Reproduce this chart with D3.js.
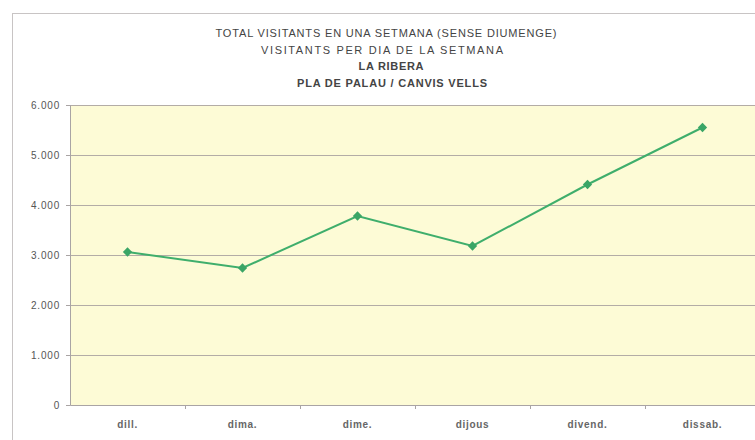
<!DOCTYPE html>
<html><head><meta charset="utf-8">
<script src="https://cdn.jsdelivr.net/npm/d3@7"></script>
<style>body{margin:0;background:#fff}svg{display:block}</style>
</head><body>
<svg id="c" width="755" height="440"></svg>
<script>
const categories = ["dill.", "dima.", "dime.", "dijous", "divend.", "dissab."];
const visitants = [3060, 2740, 3780, 3180, 4410, 5550];
const yTicks = [0, 1000, 2000, 3000, 4000, 5000, 6000];
const titleLines = ["TOTAL VISITANTS EN UNA SETMANA (SENSE DIUMENGE)", "VISITANTS PER DIA DE LA SETMANA", "LA RIBERA", "PLA DE PALAU / CANVIS VELLS"];
const titleWidths = [341, 242, 65, 190];

const svg = d3.select("#c");
const FONT = "Liberation Sans, Arial, sans-serif";
const x = d3.scaleBand().domain(categories).range([70, 70 + 6 * 115]);
const y = d3.scaleLinear().domain([0, 6000]).range([405, 105]);

// outer frame
svg.append("rect").attr("x", 12.5).attr("y", 13.5).attr("width", 760).attr("height", 440)
  .attr("fill", "#fff").attr("stroke", "#c8c4c4").attr("stroke-width", 1);

// plot background
svg.append("rect").attr("x", x.range()[0]).attr("y", y(6000)).attr("width", x.range()[1] - x.range()[0])
  .attr("height", y(0) - y(6000)).attr("fill", "#fdfbd6");

// gridlines
svg.append("g").selectAll("line").data(yTicks.filter(d => d > 0)).join("line")
  .attr("x1", x.range()[0]).attr("x2", x.range()[1])
  .attr("y1", d => Math.round(y(d)) + 0.5).attr("y2", d => Math.round(y(d)) + 0.5)
  .attr("stroke", "#b3aca6").attr("stroke-width", 1.2);

// y axis
const yAxis = d3.axisLeft(y).tickValues(yTicks).tickSize(4)
  .tickFormat(d => d3.format(",")(d).replace(/,/g, "."));
const gy = svg.append("g").attr("transform", `translate(${x.range()[0]},0)`).call(yAxis);
gy.select(".domain").attr("stroke", "#a9a4a4");
gy.selectAll(".tick line").attr("stroke", "#a9a4a4");
gy.selectAll("text").attr("font-family", FONT).attr("font-size", 10)
  .attr("letter-spacing", 0.8).attr("fill", "#555").attr("x", -10);

// x axis
const xAxis = d3.axisBottom(x).tickSize(0);
const gx = svg.append("g").attr("transform", `translate(0,${y(0)})`).call(xAxis);
gx.select(".domain").attr("stroke", "#a9a4a4").attr("stroke-width", 1.2);
gx.selectAll("text").attr("font-family", FONT).attr("font-size", 10)
  .attr("font-weight", "bold").attr("letter-spacing", 0.7).attr("fill", "#666").attr("dy", 0).attr("y", 23);
// boundary ticks
svg.append("g").selectAll("line").data(categories.slice(1)).join("line")
  .attr("x1", d => x(d) + 0.5).attr("x2", d => x(d) + 0.5)
  .attr("y1", y(0)).attr("y2", y(0) + 4).attr("stroke", "#a9a4a4");

// line
const cx = d => x(d) + x.bandwidth() / 2;
svg.append("path").datum(visitants)
  .attr("d", d3.line().x((d, i) => cx(categories[i])).y(d => y(d)))
  .attr("fill", "none").attr("stroke", "#3fae6c").attr("stroke-width", 2);
svg.append("g").selectAll("path").data(visitants).join("path")
  .attr("d", d3.symbol(d3.symbolDiamond2, 55))
  .attr("transform", (d, i) => `translate(${cx(categories[i])},${y(d)})`)
  .attr("fill", "#3aa566");

// title
svg.append("g").selectAll("text").data(titleLines).join("text")
  .attr("x", (d, i) => [386, 382, 391, 392][i]).attr("y", (d, i) => 37 + i * 16.5)
  .attr("text-anchor", "middle")
  .attr("font-family", FONT)
  .attr("font-size", 11)
  .attr("font-weight", (d, i) => i >= 2 ? "bold" : "normal")
  .attr("fill", "#444")
  .attr("textLength", (d, i) => titleWidths[i])
  .attr("lengthAdjust", "spacing")
  .text(d => d);
</script>
</body></html>
